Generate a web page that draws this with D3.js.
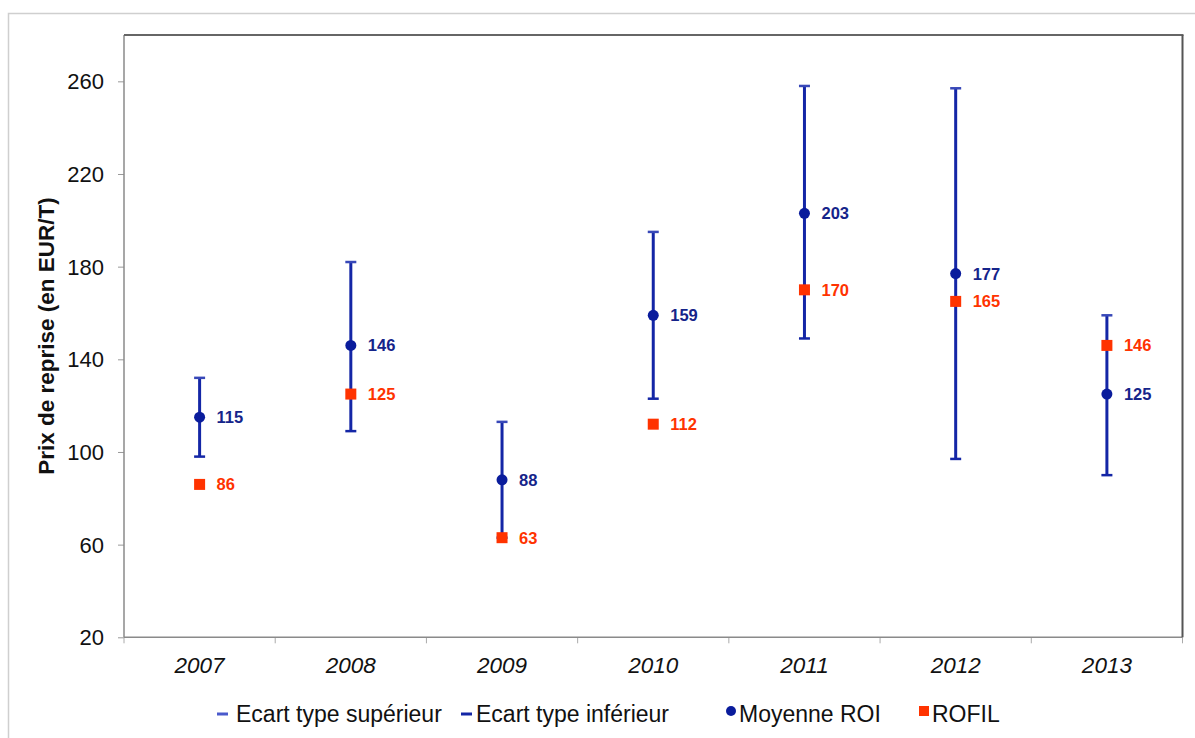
<!DOCTYPE html>
<html><head><meta charset="utf-8">
<script src="https://cdn.jsdelivr.net/npm/d3@7"></script>
<style>body{margin:0;background:#fff;}svg{display:block;font-family:"Liberation Sans",Arial,sans-serif;}</style>
</head><body><svg id="c" width="1195" height="738"></svg>
<script>
const years = ["2007","2008","2009","2010","2011","2012","2013"];
const moyenneROI = [115,146,88,159,203,177,125];
const rofil = [86,125,63,112,170,165,146];
const ecartSup = [132,182,113,195,258,257,159];
const ecartInf = [98,109,63,123,149,97,90];
const yTicks = [20,60,100,140,180,220,260];
const legendLabels = ["Ecart type supérieur","Ecart type inférieur","Moyenne ROI","ROFIL"];

const svg = d3.select("#c");
const L=124, R=1182.5, T=35, B=637.3;
const x = d3.scaleBand().domain(years).range([L,R]).padding(0);
const y = d3.scaleLinear().domain([20,280]).range([B,T]);
const blue="#1426a6", dotBlue="#0a1c9c", labBlue="#15248a", red="#ff3300";

// outer frame
svg.append("path").attr("d",`M8.5,738 V13.5 H1195`).attr("fill","none").attr("stroke","#cfcfcf").attr("stroke-width",1.5);

// axes
const ya = svg.append("g").attr("transform",`translate(${L},0)`)
  .call(d3.axisLeft(y).tickValues(yTicks).tickSize(6).tickPadding(14).tickFormat(d3.format("d")));
ya.select(".domain").remove();
ya.selectAll("line").attr("stroke","#999");
ya.selectAll("text").attr("font-size",22).attr("fill","#111").attr("dy","0.34em");

const xa = svg.append("g").attr("transform",`translate(0,${B})`)
  .call(d3.axisBottom(x).tickSize(0).tickPadding(22));
xa.select(".domain").remove();
xa.selectAll("text").attr("font-size",22.5).attr("font-style","italic").attr("fill","#111").attr("dy","0.6em");
// boundary ticks
const bounds = years.map(d=>x(d)).concat([R]);
svg.append("g").selectAll("line").data(bounds).join("line")
  .attr("x1",d=>d).attr("x2",d=>d).attr("y1",B).attr("y2",B+6).attr("stroke","#aaa").attr("stroke-width",1);

// plot frame
svg.append("line").attr("x1",L).attr("x2",L).attr("y1",T).attr("y2",B).attr("stroke","#8a8a8a").attr("stroke-width",1.5);
svg.append("line").attr("x1",L).attr("x2",R).attr("y1",B).attr("y2",B).attr("stroke","#8a8a8a").attr("stroke-width",1.5);
svg.append("line").attr("x1",L).attr("x2",R+1).attr("y1",T).attr("y2",T).attr("stroke","#666").attr("stroke-width",1.8);
svg.append("line").attr("x1",R).attr("x2",R).attr("y1",T).attr("y2",B).attr("stroke","#555").attr("stroke-width",2);

// y title
svg.append("text").attr("transform",`translate(54,${336}) rotate(-90)`).attr("text-anchor","middle")
  .attr("font-size",22.5).attr("font-weight","bold").attr("fill","#111").text("Prix de reprise (en EUR/T)");

const cx = d => x(d)+x.bandwidth()/2;
const g = svg.append("g");
// error bars
years.forEach((yr,i)=>{
  const c = cx(yr);
  g.append("line").attr("x1",c).attr("x2",c).attr("y1",y(ecartSup[i])).attr("y2",y(ecartInf[i])).attr("stroke",blue).attr("stroke-width",3);
  g.append("line").attr("x1",c-5.5).attr("x2",c+5.5).attr("y1",y(ecartSup[i])).attr("y2",y(ecartSup[i])).attr("stroke","#3848b8").attr("stroke-width",2.5);
  g.append("line").attr("x1",c-5.5).attr("x2",c+5.5).attr("y1",y(ecartInf[i])).attr("y2",y(ecartInf[i])).attr("stroke",blue).attr("stroke-width",2.5);
});
// ROFIL squares
g.selectAll("rect.r").data(years).join("rect").attr("class","r")
  .attr("x",d=>cx(d)-5.5).attr("y",(d,i)=>y(rofil[i])-5.5).attr("width",11).attr("height",11).attr("fill",red);
// mean dots
g.selectAll("circle.m").data(years).join("circle").attr("class","m")
  .attr("cx",d=>cx(d)).attr("cy",(d,i)=>y(moyenneROI[i])).attr("r",5.5).attr("fill",dotBlue);
// labels
g.selectAll("text.lm").data(years).join("text").attr("class","lm")
  .attr("x",d=>cx(d)+17).attr("y",(d,i)=>y(moyenneROI[i])).attr("dy","0.36em")
  .attr("font-size",16.5).attr("font-weight","bold").attr("fill",labBlue).text((d,i)=>moyenneROI[i]);
g.selectAll("text.lr").data(years).join("text").attr("class","lr")
  .attr("x",d=>cx(d)+17).attr("y",(d,i)=>y(rofil[i])).attr("dy","0.36em")
  .attr("font-size",16.5).attr("font-weight","bold").attr("fill",red).text((d,i)=>rofil[i]);

// legend
const lg = svg.append("g");
const ly = 714;
const lx = [236,476,739,932];
lg.append("rect").attr("x",217).attr("y",ly-1.5).attr("width",11).attr("height",3).attr("fill","#4a5acc");
lg.append("rect").attr("x",461).attr("y",ly-1.5).attr("width",11).attr("height",3).attr("fill",blue);
lg.append("circle").attr("cx",731).attr("cy",ly-3).attr("r",5).attr("fill",dotBlue);
lg.append("rect").attr("x",919).attr("y",ly-8).attr("width",10).attr("height",10).attr("fill",red);
lg.selectAll("text").data(legendLabels).join("text")
  .attr("x",(d,i)=>lx[i]).attr("y",ly).attr("dy","0.36em").attr("font-size",23).attr("fill","#111").text(d=>d);
</script></body></html>
